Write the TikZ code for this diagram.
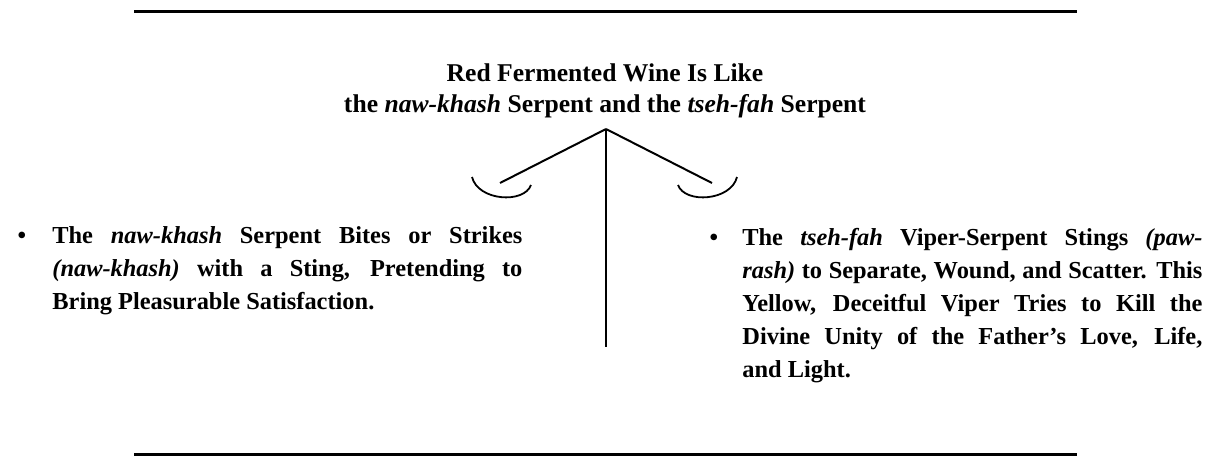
\documentclass[tikz,border=0pt]{standalone}
\usepackage{fontspec}
\setmainfont{Liberation Serif}
\tolerance=9999

\begin{document}
\begin{tikzpicture}[x=0.5pt,y=-0.5pt,
		rule/.style={line width=1.5pt},
		branch/.style={line width=1pt},
		cup/.style={line width=0.9pt},
		txt/.style={inner sep=0pt,font=\bfseries\fontsize{12.2}{16.5}\selectfont},
		headtxt/.style={inner sep=0pt,align=center,font=\bfseries\fontsize{12.8}{15.5}\selectfont}]
		\useasboundingbox (0,0) rectangle (1217,456);
		\coordinate (T1) at (134,11);
		\coordinate (T2) at (1077,11);
		\coordinate (B1) at (134,454);
		\coordinate (B2) at (1077,454);
		\draw[rule] (T1)--(T2);
		\draw[rule] (B1)--(B2);
		\node[headtxt,anchor=north] (title) at (605,63) {Red Fermented Wine Is Like\\the \textit{naw-khash} Serpent and the \textit{tseh-fah} Serpent};
		\coordinate (apex) at (606,129);
		\coordinate (L) at (500,183);
		\coordinate (R) at (712,183);
		\coordinate (foot) at (606,347);
		\draw[branch] (apex)--(L);
		\draw[branch] (apex)--(R);
		\draw[branch] (apex)--(foot);
		% cups under the two ends
		\draw[cup] (472,177) .. controls (478,201) and (524,204) .. (531,185);
		\draw[cup] (678,185) .. controls (685,204) and (731,201) .. (737,177);
		% the two bullets
		\node[txt,anchor=base] (dotL) at (22,243) {\textbullet};
		\node[txt,text width=235pt,align=justify,anchor=north west] (textL) at (52,226) {The \textit{naw-khash} Serpent Bites or Strikes\linebreak \textit{(naw-khash)} with a Sting, Pretending to\linebreak Bring Pleasurable Satisfaction.};
		\node[txt,anchor=base] (dotR) at (714,245) {\textbullet};
		\node[txt,text width=230pt,align=justify,anchor=north west] (textR) at (742,228) {The \textit{tseh-fah} Viper-Serpent Stings \textit{(paw-}\linebreak\textit{rash)} to Separate, Wound, and Scatter. This\linebreak Yellow, Deceitful Viper Tries to Kill the\linebreak Divine Unity of the Father's Love, Life,\linebreak and Light.};
	\end{tikzpicture}
\end{document}
